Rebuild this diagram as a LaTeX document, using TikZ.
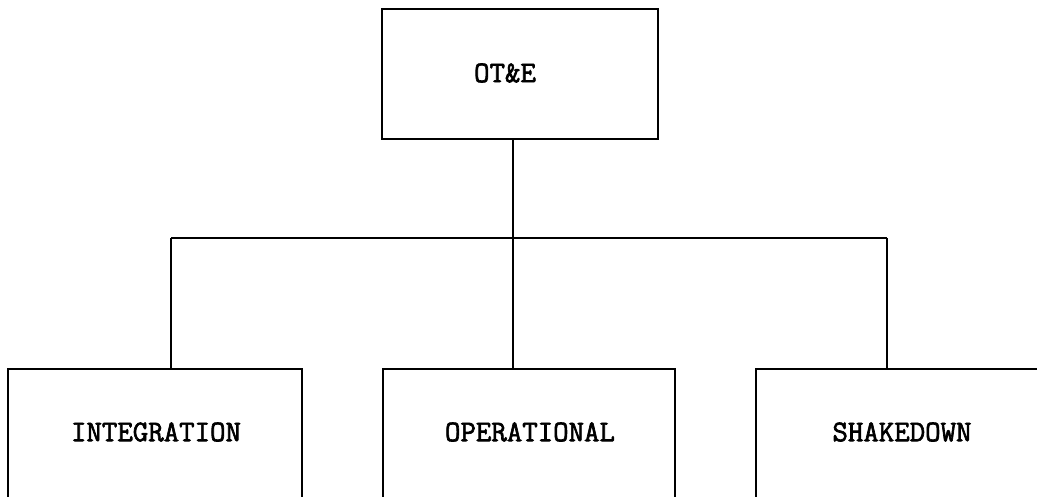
\documentclass[tikz,border=0pt]{standalone}
\usepackage{fontspec}
\newfontfamily\boxfont[FakeBold=2.2]{Latin Modern Mono}
\begin{document}
\begin{tikzpicture}[x=1pt,y=-1pt,
  box/.style={draw=black, line width=2.8pt, rectangle, inner sep=0pt},
  lbl/.style={font=\boxfont\fontsize{30}{34}\selectfont, inner sep=0pt, anchor=center},
  conn/.style={draw=black, line width=2.6pt}]
\useasboundingbox (0,0) rectangle (1037,497);
\clip (0,0) rectangle (1037,497);
% boxes
\node[box, minimum width=276pt, minimum height=130pt] (top) at (520,74) {};
\node[box, minimum width=294pt, minimum height=129pt] (left) at (155,433.5) {};
\node[box, minimum width=292pt, minimum height=129pt] (mid) at (529,433.5) {};
\node[box, minimum width=290pt, minimum height=129pt] (right) at (901,433.5) {};
% labels
\node[lbl] (toplbl) at (505,73) {OT\&E};
\node[lbl] (leftlbl) at (156,432) {INTEGRATION};
\node[lbl] (midlbl) at (530,432) {OPERATIONAL};
\node[lbl] (rightlbl) at (902,432) {SHAKEDOWN};
% connectors
\coordinate (j) at (513,238);
\coordinate (lv) at (171,238);
\coordinate (rv) at (887,238);
\draw[conn] (top.south -| j) -- (j) -- (mid.north -| j);
\draw[conn] (lv) -- (rv);
\draw[conn] (lv) -- (left.north -| lv);
\draw[conn] (rv) -- (right.north -| rv);
\end{tikzpicture}
\end{document}
